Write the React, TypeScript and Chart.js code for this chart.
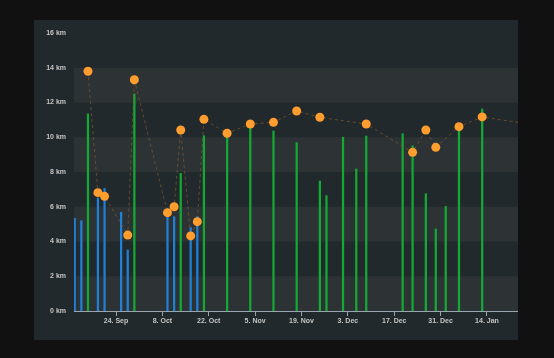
import React, { useEffect, useRef } from "react";
import { Chart, registerables } from "chart.js";

Chart.register(...registerables);

// Activities (bars): date, distance in km, kind ("a" = blue, "b" = green)
const barDates = [
  "2018-09-11", "2018-09-13", "2018-09-15", "2018-09-18", "2018-09-20",
  "2018-09-25", "2018-09-27", "2018-09-29", "2018-10-09", "2018-10-11",
  "2018-10-13", "2018-10-16", "2018-10-18", "2018-10-20", "2018-10-27",
  "2018-11-03", "2018-11-10", "2018-11-17", "2018-11-24", "2018-11-26",
  "2018-12-01", "2018-12-05", "2018-12-08", "2018-12-19", "2018-12-22",
  "2018-12-26", "2018-12-29", "2019-01-01", "2019-01-05", "2019-01-12",
];
const barKm = [
  5.33, 5.2, 11.34, 6.49, 7.06,
  5.68, 3.51, 12.49, 5.68, 5.43,
  7.92, 4.8, 5.43, 10.09, 10.0,
  10.51, 10.36, 9.69, 7.48, 6.64,
  10.0, 8.17, 10.07, 10.2, 9.51,
  6.75, 4.72, 6.02, 10.42, 11.63,
];
const barKind = [
  "a", "a", "b", "a", "a",
  "a", "a", "b", "a", "a",
  "b", "a", "a", "b", "b",
  "b", "b", "b", "b", "b",
  "b", "b", "b", "b", "b",
  "b", "b", "b", "b", "b",
];

// Orange points joined by the dashed line
const pointDates = [
  "2018-09-15", "2018-09-18", "2018-09-20", "2018-09-27", "2018-09-29",
  "2018-10-09", "2018-10-11", "2018-10-13", "2018-10-16", "2018-10-18",
  "2018-10-20", "2018-10-27", "2018-11-03", "2018-11-10", "2018-11-17",
  "2018-11-24", "2018-12-08", "2018-12-22", "2018-12-26", "2018-12-29",
  "2019-01-05", "2019-01-12", "2019-01-26",
];
const pointKm = [
  13.8, 6.81, 6.6, 4.37, 13.31,
  5.66, 6.0, 10.42, 4.32, 5.14,
  11.03, 10.23, 10.76, 10.86, 11.51,
  11.15, 10.76, 9.13, 10.42, 9.42,
  10.61, 11.17, 10.76,
];

// Axes
const tickDates = [
  "2018-09-24", "2018-10-08", "2018-10-22", "2018-11-05", "2018-11-19",
  "2018-12-03", "2018-12-17", "2018-12-31", "2019-01-14",
];
const tickLabels = [
  "24. Sep", "8. Oct", "22. Oct", "5. Nov", "19. Nov",
  "3. Dec", "17. Dec", "31. Dec", "14. Jan",
];
const yTicks = [0, 2, 4, 6, 8, 10, 12, 14, 16];
const xRange = ["2018-09-11T07:40:00Z", "2019-01-23T08:40:00Z"];
const activityTime = "T13:00:00Z";

const PANEL = "#22292c";
const BAND = "#2d3235";
const BLUE = "#1f80d8";
const GREEN = "#14a834";
const ORANGE = "#ff9d2e";
const AXIS = "#9aa4ae";
const TEXT = "#c4c4c4";
const FONT = { family: "'Liberation Sans', Arial, sans-serif", size: 7, weight: "bold" as const };

const bandsPlugin = {
  id: "bands",
  beforeDraw(chart: any) {
    const { ctx, chartArea, scales } = chart;
    const y = scales.y;
    ctx.save();
    ctx.fillStyle = BAND;
    for (let i = 0; i + 1 < yTicks.length; i += 2) {
      const top = y.getPixelForValue(yTicks[i + 1]);
      const bot = y.getPixelForValue(yTicks[i]);
      ctx.fillRect(chartArea.left, top, chartArea.right - chartArea.left, bot - top);
    }
    ctx.restore();
  },
};

export default function App() {
  const ref = useRef<HTMLCanvasElement | null>(null);

  useEffect(() => {
    if (!ref.current) return;
    const bars = barDates.map((d, i) => ({ x: Date.parse(d + activityTime), y: barKm[i] }));
    const pts = pointDates.map((d, i) => ({ x: Date.parse(d + activityTime), y: pointKm[i] }));
    const chart = new Chart(ref.current, {
      type: "bar",
      data: {
        datasets: [
          {
            type: "line",
            data: pts,
            borderColor: "rgba(130,90,45,0.7)",
            borderWidth: 1,
            borderDash: [3, 3],
            pointRadius: 4.5,
            pointBackgroundColor: ORANGE,
            pointBorderWidth: 0,
            order: 0,
          } as any,
          {
            type: "bar",
            data: bars,
            backgroundColor: barKind.map((k) => (k === "a" ? BLUE : GREEN)),
            barThickness: 1.6,
            borderWidth: 0,
            order: 1,
          } as any,
        ],
      },
      options: {
        responsive: false,
        animation: false,
        layout: { autoPadding: false, padding: { top: 13, left: 0, right: 0, bottom: 0 } },
        plugins: { legend: { display: false }, tooltip: { enabled: false } },
        scales: {
          x: {
            type: "linear",
            offset: false,
            min: Date.parse(xRange[0]),
            max: Date.parse(xRange[1]),
            grid: { offset: false, drawOnChartArea: false, drawTicks: true, tickLength: 5, color: AXIS },
            border: { display: true, color: AXIS, width: 1 },
            ticks: {
              autoSkip: false,
              maxRotation: 0,
              padding: 1,
              color: TEXT,
              font: FONT,
              callback: (_v: any, i: number) => tickLabels[i],
            },
            afterBuildTicks: (scale: any) => {
              scale.ticks = tickDates.map((d) => ({ value: Date.parse(d + "T00:00:00Z") }));
            },
            afterFit: (scale: any) => {
              scale.height = 29;
              scale.paddingLeft = 0;
              scale.paddingRight = 0;
            },
          },
          y: {
            min: yTicks[0],
            max: yTicks[yTicks.length - 1],
            grid: { display: false, drawTicks: false, tickLength: 0 },
            border: { display: false },
            ticks: {
              padding: 8,
              color: TEXT,
              font: FONT,
              callback: (v: any) => v + " km",
            },
            afterBuildTicks: (scale: any) => {
              scale.ticks = yTicks.map((v) => ({ value: v }));
            },
            afterFit: (scale: any) => {
              scale.width = 40;
            },
          },
        },
      },
      plugins: [bandsPlugin],
    } as any);
    return () => chart.destroy();
  }, []);

  return (
    <div style={{ position: "fixed", inset: 0, background: "#111111" }}>
      <div
        style={{
          position: "absolute",
          left: 34,
          top: 20,
          width: 484,
          height: 320,
          background: PANEL,
        }}
      >
        <canvas ref={ref} width={484} height={320} style={{ display: "block" }} />
      </div>
    </div>
  );
}
